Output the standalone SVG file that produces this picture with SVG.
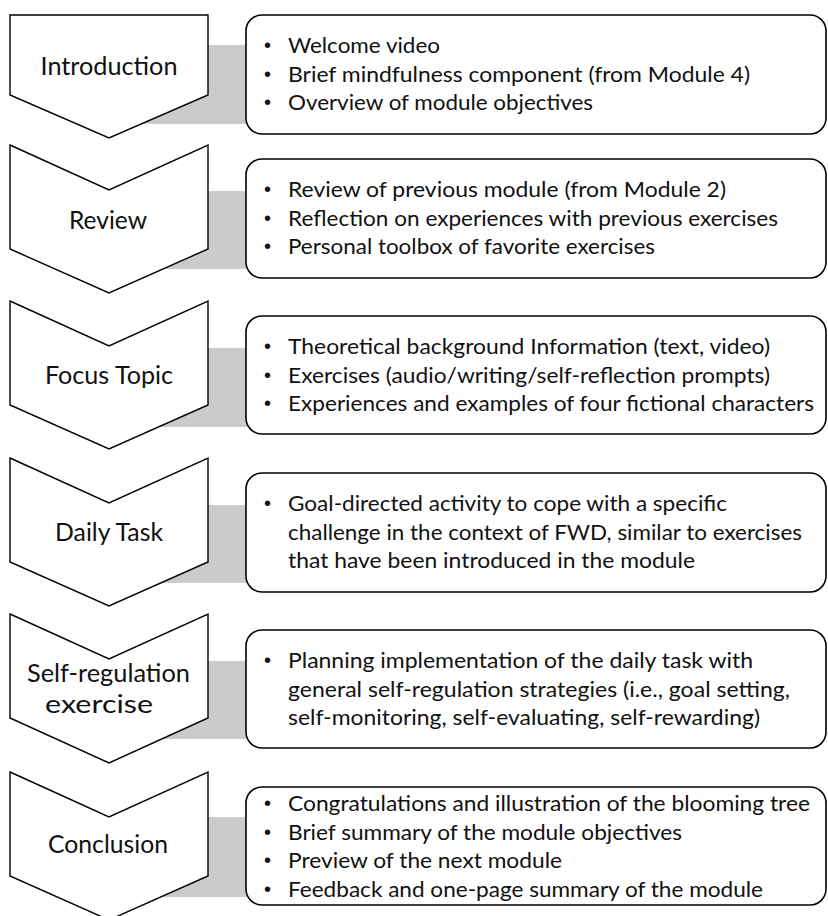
<svg xmlns="http://www.w3.org/2000/svg" width="828" height="916" viewBox="0 0 828 916">
<style>
.bar{fill:#cbcbcb;stroke:none}
.chev{fill:#fff;stroke:#000;stroke-width:1.4;stroke-linejoin:miter}
.box{fill:#fff;stroke:#000;stroke-width:1.6}
.lbl{font-family:Lato,"Liberation Sans",sans-serif;font-size:25px;fill:#111;text-anchor:middle}
.txt{font-family:Lato,"Liberation Sans",sans-serif;font-size:22px;fill:#111}
.bul{font-family:"Liberation Sans",sans-serif;font-size:20px;fill:#111}
</style>
<rect width="828" height="916" fill="#fff"/>
<g id="connectors">
<rect class="bar" x="109" y="45" width="139" height="79"/>
<rect class="bar" x="109" y="191" width="139" height="78"/>
<rect class="bar" x="109" y="348" width="139" height="79"/>
<rect class="bar" x="109" y="505" width="139" height="78"/>
<rect class="bar" x="109" y="661" width="139" height="78"/>
<rect class="bar" x="109" y="817" width="139" height="80"/>
</g>
<g id="step-introduction">
<path class="chev" d="M10,15 H208 V95 L109,138 L10,95 Z"/>
<text class="lbl" x="109" y="75" textLength="137" lengthAdjust="spacingAndGlyphs">Introduction</text>
</g>
<g id="step-review">
<path class="chev" d="M10,145 L109,190 L208,145 V249 L109,293 L10,249 Z"/>
<text class="lbl" x="108" y="229" textLength="78" lengthAdjust="spacingAndGlyphs">Review</text>
</g>
<g id="step-focus">
<path class="chev" d="M10,301 L109,346 L208,301 V405 L109,449 L10,405 Z"/>
<text class="lbl" x="109" y="384" textLength="128" lengthAdjust="spacingAndGlyphs">Focus Topic</text>
</g>
<g id="step-daily">
<path class="chev" d="M10,458 L109,503 L208,458 V562 L109,606 L10,562 Z"/>
<text class="lbl" x="109" y="541" textLength="108" lengthAdjust="spacingAndGlyphs">Daily Task</text>
</g>
<g id="step-selfreg">
<path class="chev" d="M10,614 L109,659 L208,614 V718 L109,763 L10,718 Z"/>
<text class="lbl" x="108.5" y="682" textLength="163" lengthAdjust="spacingAndGlyphs">Self-regulation</text>
<text class="lbl" x="99" y="713" textLength="108" lengthAdjust="spacingAndGlyphs">exercise</text>
</g>
<g id="step-conclusion">
<path class="chev" d="M10,772 L109,817 L208,772 V876 L109,920 L10,876 Z"/>
<text class="lbl" x="108" y="853" textLength="120" lengthAdjust="spacingAndGlyphs">Conclusion</text>
</g>
<g id="box-introduction">
<rect class="box" x="246" y="15" width="580" height="119" rx="16"/>
<text class="bul" x="264" y="52">•</text><text class="txt" x="288" y="53" textLength="152" lengthAdjust="spacingAndGlyphs">Welcome video</text>
<text class="bul" x="264" y="81">•</text><text class="txt" x="288" y="82" textLength="462" lengthAdjust="spacingAndGlyphs">Brief mindfulness component (from Module 4)</text>
<text class="bul" x="264" y="109">•</text><text class="txt" x="288" y="110" textLength="305" lengthAdjust="spacingAndGlyphs">Overview of module objectives</text>
</g>
<g id="box-review">
<rect class="box" x="246" y="159" width="580" height="119" rx="16"/>
<text class="bul" x="264" y="196">•</text><text class="txt" x="288" y="197" textLength="438" lengthAdjust="spacingAndGlyphs">Review of previous module (from Module 2)</text>
<text class="bul" x="264" y="225">•</text><text class="txt" x="288" y="226" textLength="490" lengthAdjust="spacingAndGlyphs">Reflection on experiences with previous exercises</text>
<text class="bul" x="264" y="253">•</text><text class="txt" x="288" y="254" textLength="367" lengthAdjust="spacingAndGlyphs">Personal toolbox of favorite exercises</text>
</g>
<g id="box-focus">
<rect class="box" x="246" y="316" width="580" height="118" rx="16"/>
<text class="bul" x="264" y="353">•</text><text class="txt" x="288" y="354" textLength="482" lengthAdjust="spacingAndGlyphs">Theoretical background Information (text, video)</text>
<text class="bul" x="264" y="382">•</text><text class="txt" x="288" y="383" textLength="482" lengthAdjust="spacingAndGlyphs">Exercises (audio/writing/self-reflection prompts)</text>
<text class="bul" x="264" y="410">•</text><text class="txt" x="288" y="411" textLength="526" lengthAdjust="spacingAndGlyphs">Experiences and examples of four fictional characters</text>
</g>
<g id="box-daily">
<rect class="box" x="246" y="473" width="580" height="119" rx="16"/>
<text class="bul" x="264" y="510">•</text><text class="txt" x="288" y="511" textLength="439" lengthAdjust="spacingAndGlyphs">Goal-directed activity to cope with a specific</text>
<text class="txt" x="288" y="539.5" textLength="514" lengthAdjust="spacingAndGlyphs">challenge in the context of FWD, similar to exercises</text>
<text class="txt" x="288" y="568" textLength="407" lengthAdjust="spacingAndGlyphs">that have been introduced in the module</text>
</g>
<g id="box-selfreg">
<rect class="box" x="246" y="630" width="580" height="118" rx="16"/>
<text class="bul" x="264" y="667">•</text><text class="txt" x="288" y="668" textLength="465" lengthAdjust="spacingAndGlyphs">Planning implementation of the daily task with</text>
<text class="txt" x="288" y="696.5" textLength="502" lengthAdjust="spacingAndGlyphs">general self-regulation strategies (i.e., goal setting,</text>
<text class="txt" x="288" y="725" textLength="472" lengthAdjust="spacingAndGlyphs">self-monitoring, self-evaluating, self-rewarding)</text>
</g>
<g id="box-conclusion">
<rect class="box" x="246" y="787" width="580" height="118" rx="16"/>
<text class="bul" x="264" y="810">•</text><text class="txt" x="288" y="811" textLength="522" lengthAdjust="spacingAndGlyphs">Congratulations and illustration of the blooming tree</text>
<text class="bul" x="264" y="838.5">•</text><text class="txt" x="288" y="839.5" textLength="394" lengthAdjust="spacingAndGlyphs">Brief summary of the module objectives</text>
<text class="bul" x="264" y="867">•</text><text class="txt" x="288" y="868" textLength="274" lengthAdjust="spacingAndGlyphs">Preview of the next module</text>
<text class="bul" x="264" y="895.5">•</text><text class="txt" x="288" y="896.5" textLength="475" lengthAdjust="spacingAndGlyphs">Feedback and one-page summary of the module</text>
</g>
</svg>
